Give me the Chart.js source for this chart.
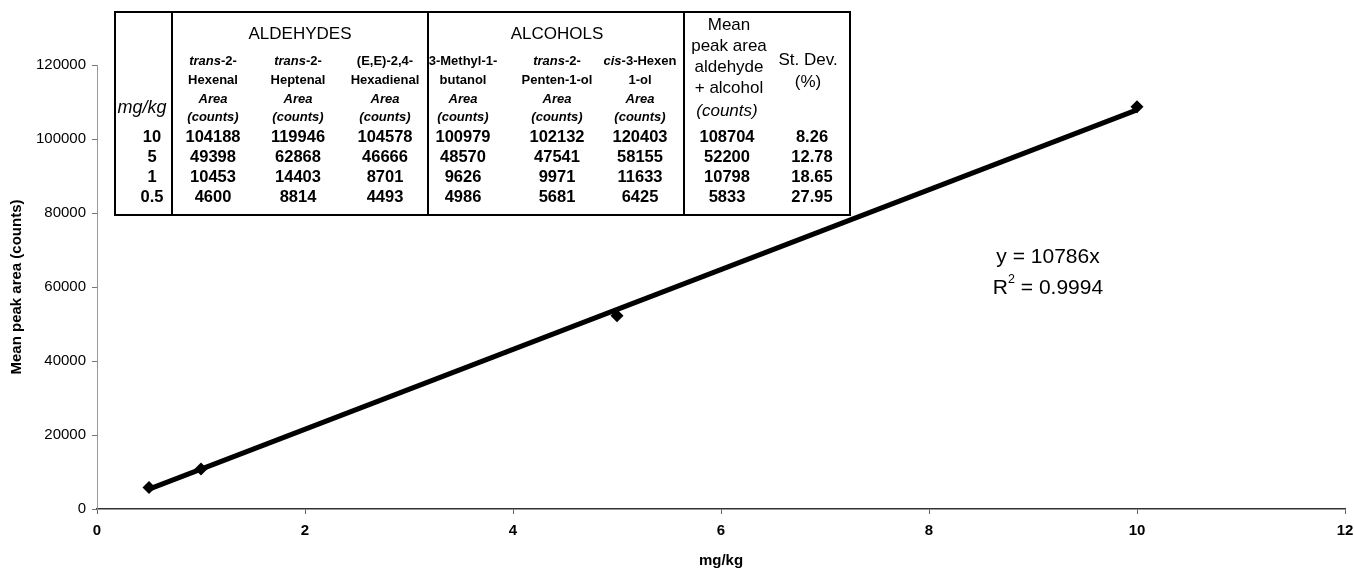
<!DOCTYPE html>
<html>
<head>
<meta charset="utf-8">
<script src="https://cdn.jsdelivr.net/npm/chart.js@4.4.1/dist/chart.umd.min.js"></script>
<style>
  html, body { margin: 0; padding: 0; background: #fff; }
  canvas { display: block; }
</style>
</head>
<body>
<canvas id="calibration" width="1354" height="571"></canvas>
<script>
const FONT = "'Liberation Sans', Arial, Helvetica, sans-serif";

// Spiked concentrations (mg/kg) and peak areas (counts) per compound
const concentrations = [10, 5, 1, 0.5];
const hexenal       = [104188, 49398, 10453, 4600];
const heptenal      = [119946, 62868, 14403, 8814];
const hexadienal    = [104578, 46666, 8701, 4493];
const methylButanol = [100979, 48570, 9626, 4986];
const pentenol      = [102132, 47541, 9971, 5681];
const hexenol       = [120403, 58155, 11633, 6425];
const meanPeakArea  = [108704, 52200, 10798, 5833];
const stDevPercent  = ['8.26', '12.78', '18.65', '27.95'];

// Column headings; *...* marks italic text
const aldehydeNames = [['*trans*-2-', 'Hexenal'], ['*trans*-2-', 'Heptenal'], ['(E,E)-2,4-', 'Hexadienal']];
const alcoholNames  = [['3-Methyl-1-', 'butanol'], ['*trans*-2-', 'Penten-1-ol'], ['*cis*-3-Hexen', '1-ol']];

// Linear regression through the origin
const trendSlope = 10786;
const trendR2 = '0.9994';

const xTicks = [0, 2, 4, 6, 8, 10, 12];
const yTicks = [0, 20000, 40000, 60000, 80000, 100000, 120000];

const points = concentrations.map((c, i) => ({ x: c, y: meanPeakArea[i] }));
const xLo = Math.min(...concentrations), xHi = Math.max(...concentrations);
const trend = [{ x: xLo, y: trendSlope * xLo }, { x: xHi, y: trendSlope * xHi }];

// draw a line of text made of upright / italic runs, centred on cx
function drawRuns(ctx, text, cx, cy, size, weight) {
  const parts = text.split('*');
  const runs = parts.map((t, i) => ({ t, font: (i % 2 ? 'italic ' : '') + weight + ' ' + size + 'px ' + FONT }))
                    .filter(r => r.t.length);
  let total = 0;
  runs.forEach(r => { ctx.font = r.font; r.w = ctx.measureText(r.t).width; total += r.w; });
  let x = cx - total / 2;
  ctx.textAlign = 'left';
  runs.forEach(r => { ctx.font = r.font; ctx.fillText(r.t, x, cy); x += r.w; });
}

const tablePlugin = {
  id: 'dataTable',
  afterDraw(chart) {
    const ctx = chart.ctx;
    ctx.save();
    ctx.fillStyle = '#fff';
    const L = 115, R = 850, T = 12, B = 215;
    ctx.fillRect(L, T, R - L, B - T);
    ctx.strokeStyle = '#000';
    ctx.lineWidth = 2;
    ctx.strokeRect(L, T, R - L, B - T);
    [172, 428, 684].forEach(x => {
      ctx.beginPath(); ctx.moveTo(x, T); ctx.lineTo(x, B); ctx.stroke();
    });

    ctx.fillStyle = '#000';
    ctx.textBaseline = 'middle';
    ctx.textAlign = 'center';

    ctx.font = '17px ' + FONT;
    ctx.fillText('ALDEHYDES', 300, 34);
    ctx.fillText('ALCOHOLS', 557, 34);

    const colX = [213, 298, 385, 463, 557, 640];
    const names = aldehydeNames.concat(alcoholNames);
    const series = [hexenal, heptenal, hexadienal, methylButanol, pentenol, hexenol];
    const rowY = [137, 157, 177, 197];

    names.forEach((lines, i) => {
      drawRuns(ctx, lines[0], colX[i], 61, 13, 'bold');
      drawRuns(ctx, lines[1], colX[i], 80, 13, 'bold');
      drawRuns(ctx, '*Area*', colX[i], 99, 13, 'bold');
      drawRuns(ctx, '*(counts)*', colX[i], 117, 13, 'bold');
    });

    drawRuns(ctx, '*mg/kg*', 142, 108, 18, 'normal');

    ctx.textAlign = 'center';
    ctx.font = 'bold 16.5px ' + FONT;
    rowY.forEach((y, r) => {
      ctx.fillText(String(concentrations[r]), 152, y);
      series.forEach((s, i) => ctx.fillText(String(s[r]), colX[i], y));
      ctx.fillText(String(meanPeakArea[r]), 727, y);
      ctx.fillText(stDevPercent[r], 812, y);
    });

    ctx.font = '17px ' + FONT;
    ctx.fillText('Mean', 729, 25);
    ctx.fillText('peak area', 729, 46);
    ctx.fillText('aldehyde', 729, 67);
    ctx.fillText('+ alcohol', 729, 88);
    drawRuns(ctx, '*(counts)*', 727, 111, 17, 'normal');
    ctx.textAlign = 'center';
    ctx.font = '17px ' + FONT;
    ctx.fillText('St. Dev.', 808, 60);
    ctx.fillText('(%)', 808, 82);

    // regression annotation
    ctx.font = '21px ' + FONT;
    ctx.fillText('y = ' + trendSlope + 'x', 1048, 257);
    const big = '21px ' + FONT, small = '12.5px ' + FONT;
    ctx.font = big; const wR = ctx.measureText('R').width;
    const rest = ' = ' + trendR2;
    const wRest = ctx.measureText(rest).width;
    ctx.font = small; const w2 = ctx.measureText('2').width;
    let x = 1048 - (wR + w2 + wRest) / 2;
    ctx.textAlign = 'left';
    ctx.font = big; ctx.fillText('R', x, 288); x += wR;
    ctx.font = small; ctx.fillText('2', x, 280); x += w2;
    ctx.font = big; ctx.fillText(rest, x, 288);
    ctx.restore();
  }
};

new Chart(document.getElementById('calibration'), {
  type: 'scatter',
  data: {
    datasets: [
      {
        label: 'Mean peak area',
        data: points,
        pointStyle: 'rectRot',
        pointRadius: 6.5,
        backgroundColor: '#000',
        borderColor: '#000',
        borderWidth: 0,
        order: 0
      },
      {
        label: 'Linear fit',
        type: 'line',
        data: trend,
        borderColor: '#000',
        borderWidth: 5,
        pointRadius: 0,
        fill: false,
        order: 1
      }
    ]
  },
  options: {
    responsive: false,
    animation: false,
    events: [],
    layout: { padding: { top: 65, right: 9, left: 0, bottom: 0 } },
    plugins: { legend: { display: false }, tooltip: { enabled: false }, title: { display: false } },
    scales: {
      x: {
        type: 'linear',
        min: xTicks[0],
        max: xTicks[xTicks.length - 1],
        afterBuildTicks: s => { s.ticks = xTicks.map(v => ({ value: v })); },
        afterFit: s => { s.height = 62; s.paddingLeft = 0; s.paddingRight = 0; },
        grid: { drawOnChartArea: false, drawTicks: true, tickLength: 5, color: '#666' },
        border: { color: '#333', width: 1.5 },
        ticks: { color: '#000', font: { family: FONT, size: 15, weight: 'bold' }, padding: 8, maxRotation: 0,
                 callback: v => String(v) },
        title: { display: true, text: 'mg/kg', color: '#000', font: { family: FONT, size: 15, weight: 'bold' }, padding: { top: 0, bottom: 1 } }
      },
      y: {
        type: 'linear',
        min: yTicks[0],
        max: yTicks[yTicks.length - 1],
        afterBuildTicks: s => { s.ticks = yTicks.map(v => ({ value: v })); },
        afterFit: s => { s.width = 97; s.paddingTop = 0; s.paddingBottom = 0; },
        grid: { drawOnChartArea: false, drawTicks: true, tickLength: 5, color: '#777' },
        border: { color: '#999', width: 1, dash: [4, 3] },
        ticks: { color: '#000', font: { family: FONT, size: 15 }, padding: 6, callback: v => String(v) },
        title: { display: true, text: 'Mean peak area (counts)', color: '#000', font: { family: FONT, size: 15, weight: 'bold' }, padding: { top: 8, bottom: 0 } }
      }
    }
  },
  plugins: [tablePlugin]
});
</script>
</body>
</html>
